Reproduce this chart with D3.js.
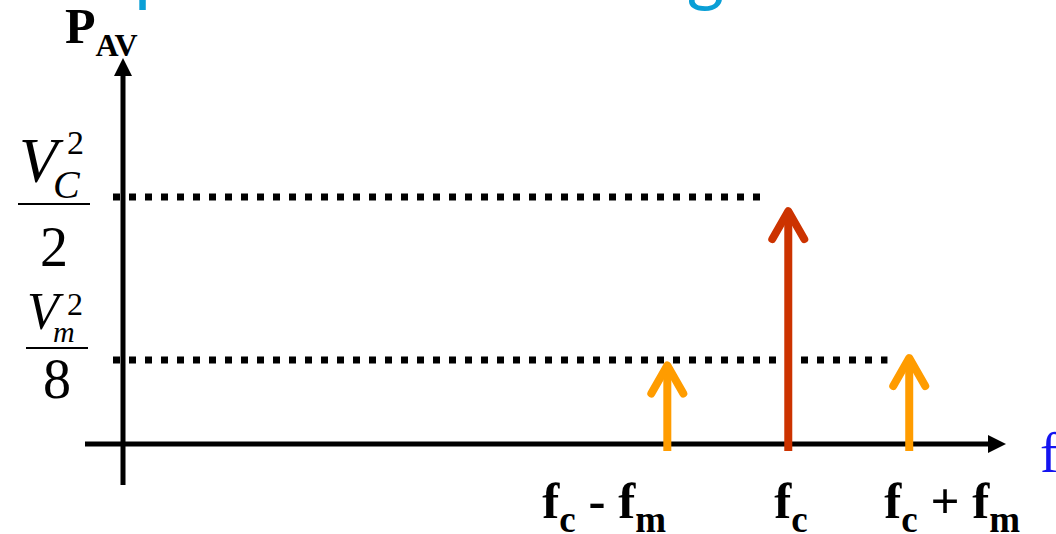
<!DOCTYPE html>
<html>
<head>
<meta charset="utf-8">
<script src="https://cdn.jsdelivr.net/npm/d3@7"></script>
<style>
  html, body { margin: 0; padding: 0; background: #ffffff; overflow: hidden; }
  svg { display: block; }
</style>
</head>
<body>
<svg id="chart" width="1056" height="534"></svg>
<script>
// Spectral lines of an AM signal: carrier at fc, sidebands at fc ± fm
const bandNames   = ["lower", "carrier", "upper"];
const bandOffsets = [-1, 0, 1];            // frequency offset from fc, in units of fm
const bandPower   = [0.33, 0.955, 0.36];   // relative average power (carrier level = 1)
const bandColors  = ["#ff9c00", "#cc3300", "#ff9c00"];
const bandLabels  = [["f", "c", " - f", "m"], ["f", "c"], ["f", "c", " + f", "m"]];

// Reference power levels with their fraction labels
const levelValues = [1, 0.34];
const levelEnds   = [-0.23, 0.82];         // where each dotted guide stops (fm units)
const levelNumer  = [["V", "C", "2"], ["V", "m", "2"]];
const levelDenom  = ["2", "8"];

const titleText = "Spectrum of AM Signal";

const svg = d3.select("#chart");
const serif = "'Liberation Serif', 'Times New Roman', serif";

const x = d3.scaleLinear().domain([-5.5, 1.8]).range([123, 1006]);
const y = d3.scaleLinear().domain([0, 1]).range([444, 197]);

// Title (runs off the top edge)
svg.append("text")
  .attr("x", 96).attr("y", -2)
  .attr("font-family", "Lato, 'Open Sans', sans-serif")
  .attr("font-size", 72)
  .attr("fill", "#0a9fd6")
  .text(titleText);

// Dotted guides for each level
svg.selectAll("line.level")
  .data(levelValues)
  .join("line")
  .attr("class", "level")
  .attr("x1", x(-5.5) - 10)
  .attr("x2", (d, i) => x(levelEnds[i]))
  .attr("y1", d => y(d))
  .attr("y2", d => y(d))
  .attr("stroke", "#000")
  .attr("stroke-width", 7)
  .attr("stroke-dasharray", "7 9");

// Axes
const axisY0 = y(0);
svg.append("line")
  .attr("x1", x(-5.5) - 38).attr("x2", x(1.8) - 16)
  .attr("y1", axisY0).attr("y2", axisY0)
  .attr("stroke", "#000").attr("stroke-width", 5);
svg.append("path")
  .attr("d", `M${x(1.8)},${axisY0} L${x(1.8) - 18},${axisY0 - 9} L${x(1.8) - 18},${axisY0 + 9} Z`)
  .attr("fill", "#000");

const yTop = y(1.563);
svg.append("line")
  .attr("x1", x(-5.5)).attr("x2", x(-5.5))
  .attr("y1", axisY0 + 41).attr("y2", yTop + 16)
  .attr("stroke", "#000").attr("stroke-width", 5);
svg.append("path")
  .attr("d", `M${x(-5.5)},${yTop} L${x(-5.5) - 9},${yTop + 18} L${x(-5.5) + 9},${yTop + 18} Z`)
  .attr("fill", "#000");

// Spectral line arrows
const arrows = svg.selectAll("g.band")
  .data(bandNames)
  .join("g")
  .attr("class", "band")
  .attr("stroke", (d, i) => bandColors[i])
  .attr("fill", "none")
  .attr("stroke-width", 8)
  .attr("stroke-linecap", "round")
  .attr("stroke-linejoin", "round");

arrows.append("line")
  .attr("x1", (d, i) => x(bandOffsets[i]))
  .attr("x2", (d, i) => x(bandOffsets[i]))
  .attr("y1", axisY0 + 7)
  .attr("y2", (d, i) => y(bandPower[i]) + 4)
  .attr("stroke-linecap", "butt");

arrows.append("path")
  .attr("d", (d, i) => {
    const cx = x(bandOffsets[i]), ty = y(bandPower[i]);
    return `M${cx - 16},${ty + 31} L${cx},${ty + 3} L${cx + 16},${ty + 31}`;
  });

// Frequency labels under the axis, left edge offset from each line
const labelShift = [-125, -14, -25];
const flab = svg.selectAll("text.freq")
  .data(bandNames)
  .join("text")
  .attr("class", "freq")
  .attr("x", (d, i) => x(bandOffsets[i]) + labelShift[i])
  .attr("y", 518)
  .attr("font-family", serif)
  .attr("font-weight", "bold")
  .attr("fill", "#000");

flab.each(function(d, i) {
  const t = d3.select(this);
  bandLabels[i].forEach((p, k) => {
    const isSub = k % 2 === 1;
    t.append("tspan")
      .attr("font-size", isSub ? 37 : 51)
      .attr("dy", k === 0 ? 0 : (isSub ? 14 : -14))
      .attr("xml:space", "preserve")
      .text(p);
  });
});

// Axis names
svg.append("text")
  .attr("x", 65).attr("y", 43)
  .attr("font-family", serif).attr("font-weight", "bold")
  .attr("font-size", 50).attr("fill", "#000")
  .text("P")
  .append("tspan")
  .attr("font-size", 32).attr("dy", 13)
  .text("AV");

svg.append("text")
  .attr("x", 1040).attr("y", 472)
  .attr("font-family", serif)
  .attr("font-size", 56).attr("fill", "#1414f0")
  .text("f");

// Fraction labels for the reference levels
const fracSpec = [
  { bar: [18, 90], barY: 7, vSize: 63, vX: 19, vY: -15, subSize: 40, subX: 53, subY: 1,
    supSize: 34, supX: 67, supY: -43, denSize: 56, denY: 69 },
  { bar: [26, 88], barY: -12, vSize: 52, vX: 27, vY: -31, subSize: 30, subX: 53, subY: -18,
    supSize: 32, supX: 67, supY: -45, denSize: 56, denY: 38 }
];

levelValues.forEach((v, i) => {
  const s = fracSpec[i];
  const yy = y(v);
  const g = svg.append("g").attr("font-family", serif).attr("fill", "#000");
  g.append("text").attr("x", s.vX).attr("y", yy + s.vY)
    .attr("font-style", "italic").attr("font-size", s.vSize).text(levelNumer[i][0]);
  g.append("text").attr("x", s.subX).attr("y", yy + s.subY)
    .attr("font-style", "italic").attr("font-size", s.subSize).text(levelNumer[i][1]);
  g.append("text").attr("x", s.supX).attr("y", yy + s.supY)
    .attr("font-size", s.supSize).text(levelNumer[i][2]);
  g.append("line")
    .attr("x1", s.bar[0]).attr("x2", s.bar[1])
    .attr("y1", yy + s.barY).attr("y2", yy + s.barY)
    .attr("stroke", "#000").attr("stroke-width", 2);
  g.append("text").attr("x", (s.bar[0] + s.bar[1]) / 2).attr("y", yy + s.denY)
    .attr("text-anchor", "middle").attr("font-size", s.denSize).text(levelDenom[i]);
});
</script>
</body>
</html>
